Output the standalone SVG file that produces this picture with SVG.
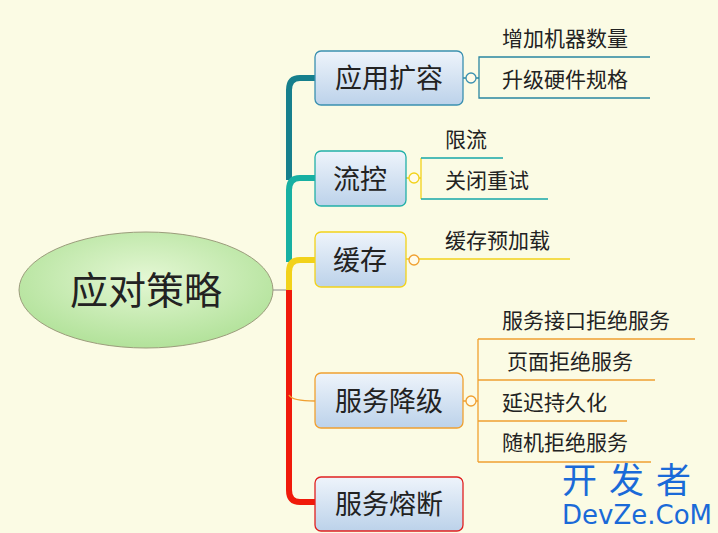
<svg xmlns="http://www.w3.org/2000/svg" width="718" height="533" viewBox="0 0 718 533">
<defs>
<linearGradient id="nb" x1="0" y1="0" x2="0" y2="1"><stop offset="0" stop-color="#eef4fb"/><stop offset="1" stop-color="#bcd2ea"/></linearGradient>
<radialGradient id="cg" cx="0.5" cy="0.4" r="0.6"><stop offset="0" stop-color="#e4f7d4"/><stop offset="1" stop-color="#b2e29a"/></radialGradient>
<style>
text{font-family:"Noto Sans CJK SC",sans-serif;fill:#222}
.n{font-size:27px}
.s{font-size:21px}
.box{fill:url(#nb);stroke-width:1.3}
.c{fill:#fffbe8;stroke-width:1.3}
.l{fill:none;stroke-width:1.3}
</style>
</defs>
<rect width="718" height="533" fill="#fbfbe4"/>
<g id="connectors" fill="none">
<line x1="273" y1="290" x2="290" y2="290" stroke="#888" stroke-width="1"/>
<path d="M315 78 H300 Q289 78 289 90 V180" stroke="#167f8c" stroke-width="6"/>
<path d="M315 178 H300 Q289 178 289 190 V262" stroke="#17b0a2" stroke-width="6"/>
<path d="M315 260 H300 Q289 260 289 272 V292" stroke="#f2d21a" stroke-width="6"/>
<path d="M289 290 V490 Q289 502 300 502 H315" stroke="#f01a0a" stroke-width="6"/>
<path d="M289 395 Q292 401 315 401" stroke="#f0a030" stroke-width="1.5"/>
<path class="l" stroke="#2a86a0" d="M650 57 H479 V98 H650 M463 78 H479"/>
<path class="l" stroke="#f2d21a" d="M406 178 H421 M421 158 V199"/>
<path class="l" stroke="#17a8a8" d="M421 158 H503 M421 199 H548"/>
<path class="l" stroke="#f2d21a" d="M406 259 H570"/>
<path class="l" stroke="#f0a030" d="M463 401 H478 M478 339 V462 M478 339 H695 M478 380 H655 M478 421 H627 M478 462 H651"/>
</g>
<g id="center"><ellipse cx="146" cy="290" rx="127" ry="58" fill="url(#cg)" stroke="#9c9c7c" stroke-width="1"/><text x="146" y="304" text-anchor="middle" font-size="38">应对策略</text></g>
<g id="n1"><rect class="box" x="315" y="51" width="148" height="54" rx="6" stroke="#3a90b0"/><text class="n" x="389" y="88" text-anchor="middle">应用扩容</text><circle class="c" cx="471" cy="78" r="5" stroke="#3a90b0"/></g>
<g id="n2"><rect class="box" x="315" y="151" width="91" height="55" rx="6" stroke="#22b0a8"/><text class="n" x="360" y="189" text-anchor="middle">流控</text><circle class="c" cx="414" cy="178" r="5" stroke="#f2d21a"/></g>
<g id="n3"><rect class="box" x="315" y="232" width="91" height="55" rx="6" stroke="#f2d21a"/><text class="n" x="360" y="270" text-anchor="middle">缓存</text><circle class="c" cx="414" cy="260" r="5" stroke="#f0a030"/></g>
<g id="n4"><rect class="box" x="315" y="373" width="148" height="55" rx="6" stroke="#f0a030"/><text class="n" x="389" y="411" text-anchor="middle">服务降级</text><circle class="c" cx="471" cy="401" r="5" stroke="#f0a030"/></g>
<g id="n5"><rect class="box" x="315" y="477" width="148" height="54" rx="6" stroke="#e02020"/><text class="n" x="389" y="514" text-anchor="middle">服务熔断</text></g>
<g id="leaves">
<text class="s" x="502" y="46">增加机器数量</text>
<text class="s" x="502" y="87">升级硬件规格</text>
<text class="s" x="445" y="147">限流</text>
<text class="s" x="445" y="188">关闭重试</text>
<text class="s" x="445" y="248">缓存预加载</text>
<text class="s" x="502" y="328">服务接口拒绝服务</text>
<text class="s" x="507" y="369">页面拒绝服务</text>
<text class="s" x="502" y="410">延迟持久化</text>
<text class="s" x="502" y="450">随机拒绝服务</text>
</g>
<g id="watermark">
<text x="562" y="493" font-size="35" style="fill:#1a6ad8" letter-spacing="12">开发者</text>
<text x="562" y="524" font-size="26" style="fill:#1a6ad8;font-family:'DejaVu Sans',sans-serif">DevZe.CoM</text>
</g>
</svg>
